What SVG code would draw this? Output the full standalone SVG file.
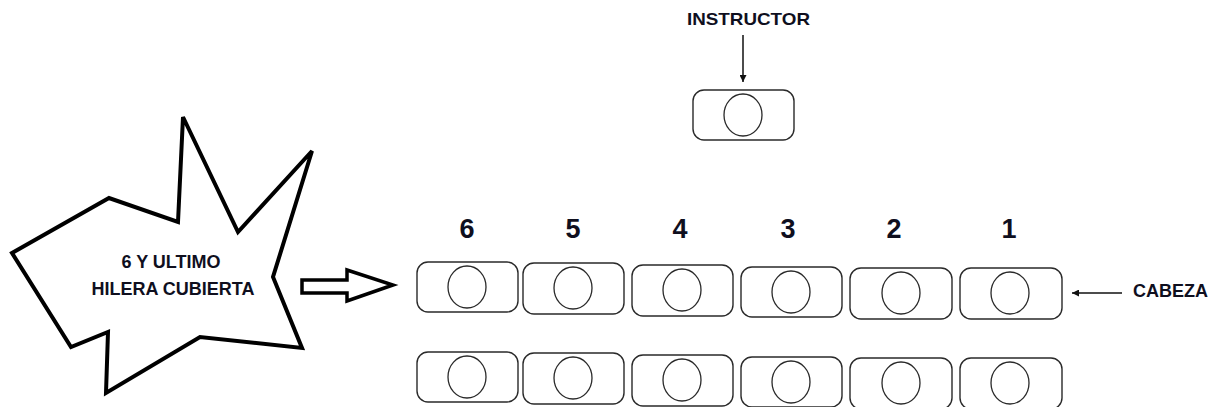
<svg xmlns="http://www.w3.org/2000/svg" width="1217" height="407" viewBox="0 0 1217 407">
<defs>
<style>
.box{fill:#fff;stroke:#2a2a2a;stroke-width:1.4}
.head{fill:#fff;stroke:#2a2a2a;stroke-width:1.3}
.lbl{font-family:"Liberation Sans",Arial,sans-serif;font-weight:bold;fill:#0f0f1e}
.num{font-size:27px;text-anchor:middle}
.conn{stroke:#111;stroke-width:1.5;fill:none}
</style>
<marker id="ah" viewBox="0 0 10 10" refX="10" refY="5" markerWidth="7" markerHeight="7" markerUnits="userSpaceOnUse" orient="auto">
<path d="M0,0 L10,5 L0,10 z" fill="#111"/>
</marker>
</defs>
<rect width="1217" height="407" fill="#fff"/>

<g id="star">
<polygon points="183,117 238,232 312,151 273,277 302,348 200,337 106,393 108,332 71,347 12,253 109,198 178,222" fill="#fff" stroke="#000" stroke-width="4" stroke-linejoin="miter"/>
<text class="lbl" x="171" y="268" font-size="18" text-anchor="middle">6 Y ULTIMO</text>
<text class="lbl" x="173" y="295" font-size="18" text-anchor="middle">HILERA CUBIERTA</text>
</g>

<g id="instructor">
<text class="lbl" x="687" y="25" font-size="17" textLength="123" lengthAdjust="spacingAndGlyphs">INSTRUCTOR</text>
<rect class="box" x="693" y="90" width="101" height="50" rx="11"/>
<ellipse class="head" cx="743" cy="115" rx="19" ry="21"/>
</g>

<g id="cabeza">
<text class="lbl" x="1133" y="297" font-size="18">CABEZA</text>
</g>

<g id="numbers">
<text class="lbl num" x="467" y="238">6</text>
<text class="lbl num" x="573" y="238">5</text>
<text class="lbl num" x="680" y="238">4</text>
<text class="lbl num" x="788" y="238">3</text>
<text class="lbl num" x="894" y="238">2</text>
<text class="lbl num" x="1009" y="238">1</text>
</g>

<g id="row1">
<g id="r1-6"><rect class="box" x="417" y="262" width="101" height="50" rx="11"/><ellipse class="head" cx="467" cy="287" rx="19" ry="21"/></g>
<g id="r1-5"><rect class="box" x="523" y="263" width="101" height="51" rx="11"/><ellipse class="head" cx="573" cy="288" rx="19" ry="21"/></g>
<g id="r1-4"><rect class="box" x="632" y="265" width="101" height="51" rx="11"/><ellipse class="head" cx="682" cy="290" rx="19" ry="21"/></g>
<g id="r1-3"><rect class="box" x="741" y="267" width="101" height="50" rx="11"/><ellipse class="head" cx="791" cy="292" rx="19" ry="21"/></g>
<g id="r1-2"><rect class="box" x="850" y="268" width="102" height="51" rx="11"/><ellipse class="head" cx="901" cy="293" rx="19" ry="21"/></g>
<g id="r1-1"><rect class="box" x="960" y="268" width="102" height="51" rx="11"/><ellipse class="head" cx="1010" cy="293" rx="19" ry="21"/></g>
</g>

<g id="row2">
<g id="r2-6"><rect class="box" x="417" y="352" width="101" height="50" rx="11"/><ellipse class="head" cx="467" cy="377" rx="19" ry="21"/></g>
<g id="r2-5"><rect class="box" x="523" y="353" width="101" height="51" rx="11"/><ellipse class="head" cx="573" cy="378" rx="19" ry="21"/></g>
<g id="r2-4"><rect class="box" x="632" y="355" width="101" height="51" rx="11"/><ellipse class="head" cx="682" cy="380" rx="19" ry="21"/></g>
<g id="r2-3"><rect class="box" x="741" y="357" width="101" height="50" rx="11"/><ellipse class="head" cx="791" cy="382" rx="19" ry="21"/></g>
<g id="r2-2"><rect class="box" x="850" y="358" width="102" height="51" rx="11"/><ellipse class="head" cx="901" cy="383" rx="19" ry="21"/></g>
<g id="r2-1"><rect class="box" x="960" y="358" width="102" height="51" rx="11"/><ellipse class="head" cx="1010" cy="383" rx="19" ry="21"/></g>
</g>

<g id="connectors">
<line class="conn" x1="743" y1="35" x2="743" y2="82" marker-end="url(#ah)"/>
<line class="conn" x1="1122" y1="293" x2="1072" y2="293" marker-end="url(#ah)"/>
<polygon points="302,280 347,280 347,270 393,285 347,301 347,293 302,293" fill="#fff" stroke="#000" stroke-width="3.5" stroke-linejoin="miter"/>
</g>
</svg>
